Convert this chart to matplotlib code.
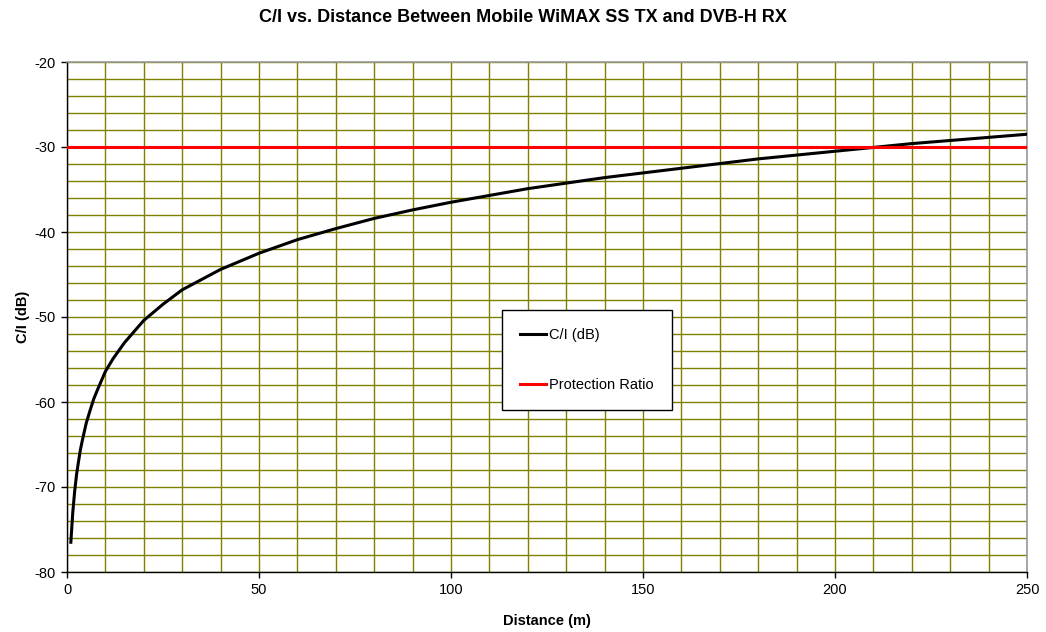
import matplotlib
matplotlib.use("Agg")
import matplotlib.pyplot as plt
import numpy as np

distance = [1, 1.5, 2, 2.5, 3, 3.5, 4, 5, 6, 7, 8, 10, 12, 15, 20, 25, 30, 35, 40, 50, 60,
            70, 80, 90, 100, 120, 140, 160, 180, 200, 220, 250]
ci_db = [-76.5, -73.0, -70.5, -68.5, -67.0, -65.6, -64.5, -62.5, -61.0, -59.6,
         -58.5, -56.4, -54.9, -53.0, -50.4, -48.5, -46.8, -45.6, -44.4, -42.5,
         -40.9, -39.6, -38.4, -37.4, -36.5, -34.9, -33.6, -32.5, -31.4, -30.5,
         -29.6, -28.5]
protection_x = [0, 250]
protection_y = [-30, -30]

plt.rcParams['font.family'] = ['Liberation Sans', 'DejaVu Sans']
plt.rcParams['axes.unicode_minus'] = False
fig = plt.figure(figsize=(10.46, 6.32), dpi=100)
ax = fig.add_axes([67/1046, 1 - 572/632, 960/1046, 510/632])

ax.set_xlim(0, 250)
ax.set_ylim(-80, -20)
ax.set_xticks(np.arange(0, 251, 50))
ax.set_yticks(np.arange(-80, -19, 10))
ax.set_xticks(np.arange(0, 251, 10), minor=True)
ax.set_yticks(np.arange(-80, -19, 2), minor=True)
ax.grid(True, which='both', color='#808000', linewidth=1.0)
ax.tick_params(which='minor', length=0)
ax.tick_params(which='major', length=4, width=1, labelsize=10.5, direction='out', pad=4)
ax.set_axisbelow(True)

for s in ['top', 'right']:
    ax.spines[s].set_color('#999999')
    ax.spines[s].set_linewidth(1.2)
for s in ['left', 'bottom']:
    ax.spines[s].set_color('black')
    ax.spines[s].set_linewidth(1.0)

ax.plot(distance, ci_db, color='black', lw=2.2, label='C/I (dB)', zorder=3)
ax.plot(protection_x, protection_y, color='#ff0000', lw=2.2, label='Protection Ratio', zorder=3)

leg = ax.legend(loc='upper left', bbox_to_anchor=(0.453, 1 - (310 - 62) / 510),
                fontsize=10.5, frameon=True, fancybox=False, edgecolor='black',
                handlelength=1.8, handletextpad=0.2, labelspacing=2.45, borderpad=1.25,
                borderaxespad=0)
leg.get_frame().set_linewidth(1.0)
leg.get_frame().set_alpha(1)

ax.set_xlabel('Distance (m)', fontsize=10.5, fontweight='bold', labelpad=12)
ax.set_ylabel('C/I (dB)', fontsize=10.5, fontweight='bold', labelpad=3)
fig.suptitle('C/I vs. Distance Between Mobile WiMAX SS TX and DVB-H RX', fontsize=13,
             fontweight='bold', y=1 - 18/632, va='center')

fig.savefig('out.png', dpi=100, facecolor='white')
